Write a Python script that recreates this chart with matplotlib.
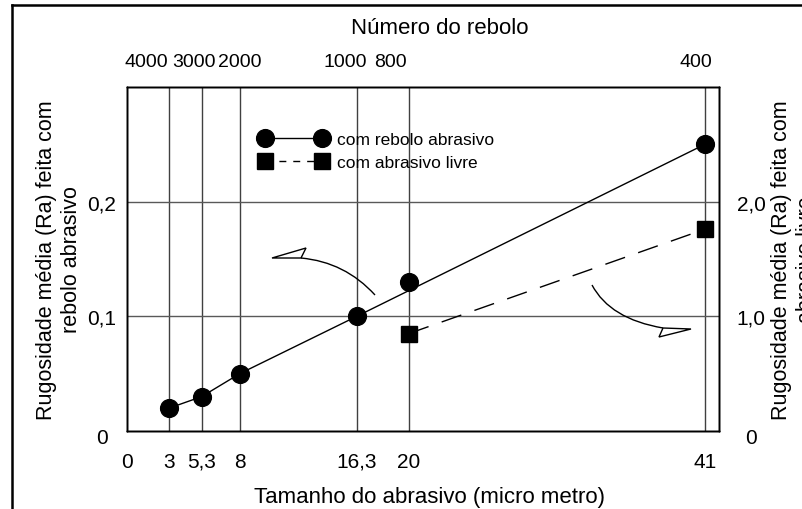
import matplotlib
matplotlib.use("Agg")
import matplotlib.pyplot as plt
import matplotlib.transforms as mtransforms
from matplotlib.lines import Line2D
from matplotlib.path import Path
from matplotlib.patches import PathPatch, Polygon

# Abrasive grain size (micrometre) and the matching wheel grit number
grain_size = [3, 5.3, 8, 16.3, 20, 41]
wheel_number = ["4000", "3000", "2000", "1000", "800", "400"]
bottom_ticks = [0, 3, 5.3, 8, 16.3, 20, 41]
bottom_labels = ["0", "3", "5,3", "8", "16,3", "20", "41"]

# Mean roughness Ra obtained with the grinding wheel (left axis)
ra_wheel = [0.02, 0.03, 0.05, 0.10, 0.13, 0.25]
# Trend line drawn through the wheel results
trend_x = [3, 5.3, 8, 16.3, 41]
trend_ra = [0.02, 0.03, 0.05, 0.10, 0.25]

# Mean roughness Ra obtained with free abrasive (right axis)
free_x = [20, 41]
ra_free = [0.85, 1.76]

left_ticks = [0, 0.1, 0.2]
left_labels = ["0", "0,1", "0,2"]
right_ticks = [0, 1.0, 2.0]
right_labels = ["0", "1,0", "2,0"]

plt.rcParams["font.family"] = ["Liberation Sans", "DejaVu Sans"]

W, H = 803, 510
fig = plt.figure(figsize=(W / 100, H / 100), dpi=100)

L, R, T, B = 127, 719, 88, 432
ax = fig.add_axes([L / W, 1 - B / H, (R - L) / W, (B - T) / H])
ax.set_xlim(0, 42)
ax.set_ylim(0, 0.3)


def shift(text, dx=0, dy=0):
    """Move a text artist by (dx, dy) pixels."""
    text.set_transform(text.get_transform() +
                       mtransforms.ScaledTranslation(dx / 100, -dy / 100, fig.dpi_scale_trans))


# Outer frame of the figure (left and top edges)
fig.add_artist(Line2D([12 / W, 12 / W], [0, 1 - 6 / H], color="black", lw=1.8,
                      transform=fig.transFigure))
fig.add_artist(Line2D([12 / W, 1], [1 - 6 / H, 1 - 6 / H], color="black", lw=1.8,
                      transform=fig.transFigure))

# Reference lines
for x in grain_size:
    ax.axvline(x, color="0.25", lw=1.0, zorder=1)
for y in left_ticks[1:]:
    ax.axhline(y, color="0.35", lw=1.0, zorder=1)

# Wheel series
ax.plot(trend_x, trend_ra, color="black", lw=1.0, zorder=2)
ax.plot(grain_size, ra_wheel, linestyle="none", marker="o", ms=12.8,
        color="black", zorder=3)

ax.set_xticks(bottom_ticks)
ax.set_xticklabels(bottom_labels)
ax.set_yticks(left_ticks)
ax.set_yticklabels(left_labels)
ax.tick_params(axis="x", length=0, labelsize=15, pad=15)
ax.tick_params(axis="y", length=0, labelsize=15, pad=18)
for lab in ax.get_yticklabels():
    lab.set_horizontalalignment("center")
shift(ax.get_yticklabels()[0], dy=5)

# Right axis: free abrasive
ax2 = ax.twinx()
ax2.set_ylim(0, 3.0)
ax2.plot(free_x, ra_free, color="black", lw=1.0, linestyle=(0, (15, 10)),
         marker="s", ms=11.5, zorder=3)
ax2.set_yticks(right_ticks)
ax2.set_yticklabels(right_labels)
ax2.tick_params(length=0, labelsize=15, pad=23)
for lab in ax2.get_yticklabels():
    lab.set_horizontalalignment("center")
shift(ax2.get_yticklabels()[0], dy=5)

# Top axis: wheel grit number (labels nudged so crowded ones do not collide)
ax3 = ax.twiny()
ax3.set_xlim(ax.get_xlim())
ax3.set_xticks(grain_size)
ax3.set_xticklabels(wheel_number)
ax3.tick_params(length=0, labelsize=14, pad=12)
for lab, dx in zip(ax3.get_xticklabels(), [-23, -8, 0, -12, -18, -9]):
    shift(lab, dx=dx)

for a in (ax, ax2, ax3):
    for s in a.spines.values():
        s.set_linewidth(1.0)
        s.set_color("black")

# Axis titles
fig.text(430 / W, 1 - 498 / H, "Tamanho do abrasivo (micro metro)", fontsize=16,
         ha="center", va="center")
fig.text(440 / W, 1 - 28 / H, "Número do rebolo", fontsize=16,
         ha="center", va="center")
fig.text(59 / W, 1 - 260 / H, "Rugosidade média (Ra) feita com\nrebolo abrasivo",
         fontsize=15.5, rotation=90, ha="center", va="center", linespacing=1.2,
         multialignment="center")
fig.text(794 / W, 1 - 260 / H, "Rugosidade média (Ra) feita com\nabrasivo livre",
         fontsize=15.5, rotation=90, ha="center", va="center", linespacing=1.2,
         multialignment="center")


# Curved arrows pointing each series to its own axis (axes-fraction coords)
def px(x, y):
    return ((x - L) / (R - L), (B - y) / (B - T))


def curved_arrow(p0, c, p2, head):
    path = Path([px(*p0), px(*c), px(*p2)], [Path.MOVETO, Path.CURVE3, Path.CURVE3])
    ax.add_patch(PathPatch(path, fill=False, color="black", lw=1.0,
                           transform=ax.transAxes, zorder=2))
    ax.add_patch(Polygon([px(*p) for p in head], closed=True, fill=False,
                         edgecolor="black", lw=1.0, transform=ax.transAxes, zorder=2))


curved_arrow((375, 296), (345, 263), (301, 259),
             [(272, 259), (306, 249), (301, 259)])
curved_arrow((592, 286), (610, 320), (663, 329),
             [(691, 330), (659, 338), (663, 329)])

# Legend
handles = [
    Line2D([], [], color="black", lw=1.0, marker="o", ms=12.8),
    Line2D([], [], color="black", lw=1.0, linestyle=(0, (5, 5)), marker="s", ms=11.5),
]
ax.legend(handles, ["com rebolo abrasivo", "com abrasivo livre"],
          loc="upper left", bbox_to_anchor=px(260, 133), frameon=False,
          numpoints=2, handlelength=3.9, fontsize=12.5, handletextpad=0.55,
          labelspacing=0.47, borderaxespad=0, borderpad=0)

fig.savefig("out.png", dpi=100)
